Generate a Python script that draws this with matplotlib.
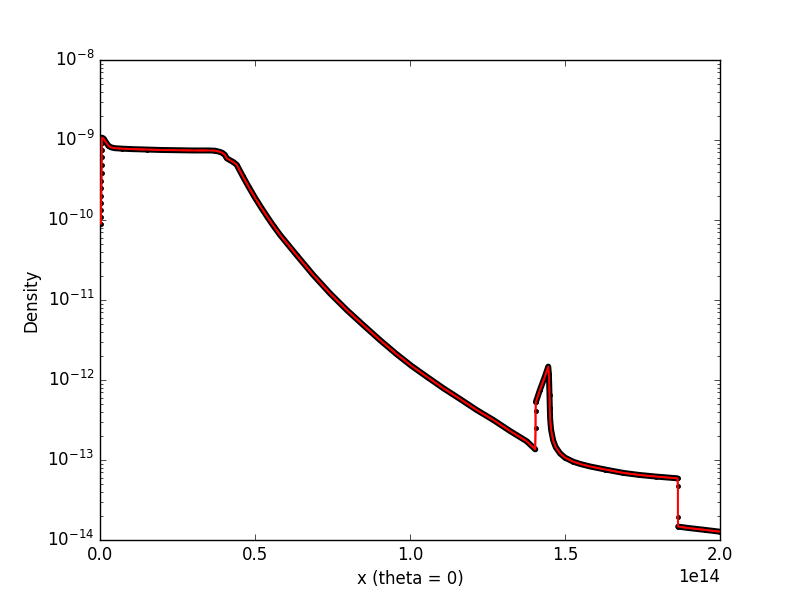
import matplotlib
matplotlib.use('Agg')
import matplotlib.pyplot as plt
import numpy as np

plt.style.use('classic')
plt.rcParams['axes.unicode_minus'] = False

X_UNIT = 1e14

# Near-origin rise (x in units of 1e14)
x_rise = [0.0030, 0.0033, 0.0036, 0.0039, 0.0042, 0.0045, 0.0048, 0.0051,
          0.0054, 0.0057, 0.0060, 0.0063]
d_rise = [9.0e-11, 1.1e-10, 1.35e-10, 1.65e-10, 2.0e-10, 2.5e-10, 3.1e-10,
          3.9e-10, 4.9e-10, 6.1e-10, 7.6e-10, 9.2e-10]

# Main branch: peak, plateau and decline
x_main = [0.0066, 0.012, 0.018, 0.027, 0.035, 0.048, 0.07, 0.10, 0.15, 0.20,
          0.25, 0.30, 0.35, 0.371, 0.387, 0.395, 0.403, 0.409, 0.419, 0.43,
          0.441, 0.46, 0.48, 0.50, 0.52, 0.54, 0.56, 0.581, 0.634, 0.688,
          0.742, 0.796, 0.849, 0.903, 0.957, 1.005, 1.054, 1.108, 1.161,
          1.215, 1.269, 1.323, 1.376, 1.404]
d_main = [1.07e-9, 1.04e-9, 9.5e-10, 8.5e-10, 8.1e-10, 7.9e-10, 7.8e-10,
          7.7e-10, 7.6e-10, 7.5e-10, 7.45e-10, 7.4e-10, 7.4e-10, 7.35e-10,
          7.1e-10, 6.9e-10, 6.5e-10, 5.9e-10, 5.6e-10, 5.3e-10, 4.9e-10,
          3.56e-10, 2.58e-10, 1.9e-10, 1.43e-10, 1.09e-10, 8.4e-11, 6.5e-11,
          3.65e-11, 2.05e-11, 1.21e-11, 7.5e-12, 4.87e-12, 3.16e-12, 2.1e-12,
          1.5e-12, 1.1e-12, 7.87e-13, 5.8e-13, 4.22e-13, 3.16e-13, 2.3e-13,
          1.72e-13, 1.36e-13]

# First jump (intermediate points)
x_jump1 = [1.405, 1.405]
d_jump1 = [2.49e-13, 4.1e-13]

# Shell branch: spike and tail
x_shell = [1.406, 1.419, 1.435, 1.446, 1.448, 1.449, 1.450, 1.451, 1.452,
           1.455, 1.462, 1.47, 1.484, 1.50, 1.527, 1.55, 1.581, 1.63, 1.688,
           1.74, 1.795, 1.863]
d_shell = [5.3e-13, 7.5e-13, 1.1e-12, 1.47e-12, 1.2e-12, 9.0e-13, 6.5e-13,
           4.5e-13, 3.3e-13, 2.4e-13, 1.75e-13, 1.45e-13, 1.21e-13, 1.07e-13,
           9.5e-14, 8.9e-14, 8.3e-14, 7.6e-14, 6.9e-14, 6.5e-14, 6.2e-14,
           5.9e-14]

# Second jump (intermediate points)
x_jump2 = [1.864, 1.864]
d_jump2 = [4.7e-14, 1.94e-14]

# Outer branch
x_outer = [1.865, 1.9, 1.95, 2.0]
d_outer = [1.47e-14, 1.41e-14, 1.34e-14, 1.27e-14]

x_all = np.array(x_rise + x_main + x_jump1 + x_shell + x_jump2 + x_outer) * X_UNIT
d_all = np.array(d_rise + d_main + d_jump1 + d_shell + d_jump2 + d_outer)

fig = plt.figure(figsize=(8, 6), dpi=100)
ax = fig.add_subplot(111)

# dense-marker look along continuous branches
for xs, ds in [(x_main, d_main), (x_shell, d_shell), (x_outer, d_outer)]:
    ax.plot(np.array(xs) * X_UNIT, ds, color='black', lw=4.3,
            solid_capstyle='round', solid_joinstyle='round', zorder=2)

ax.plot(x_all, d_all, color='red', lw=1.2, marker='.', markersize=6,
        markerfacecolor='black', markeredgecolor='black', zorder=3)
ax.plot(x_all, d_all, color='red', lw=1.4, zorder=4)

ax.set_yscale('log')
ax.set_xlim(0, 2e14)
ax.set_ylim(1e-14, 1e-8)
ax.set_xlabel('x (theta = 0)')
ax.set_ylabel('Density')

fig.savefig('out.png', dpi=100, facecolor='white')
